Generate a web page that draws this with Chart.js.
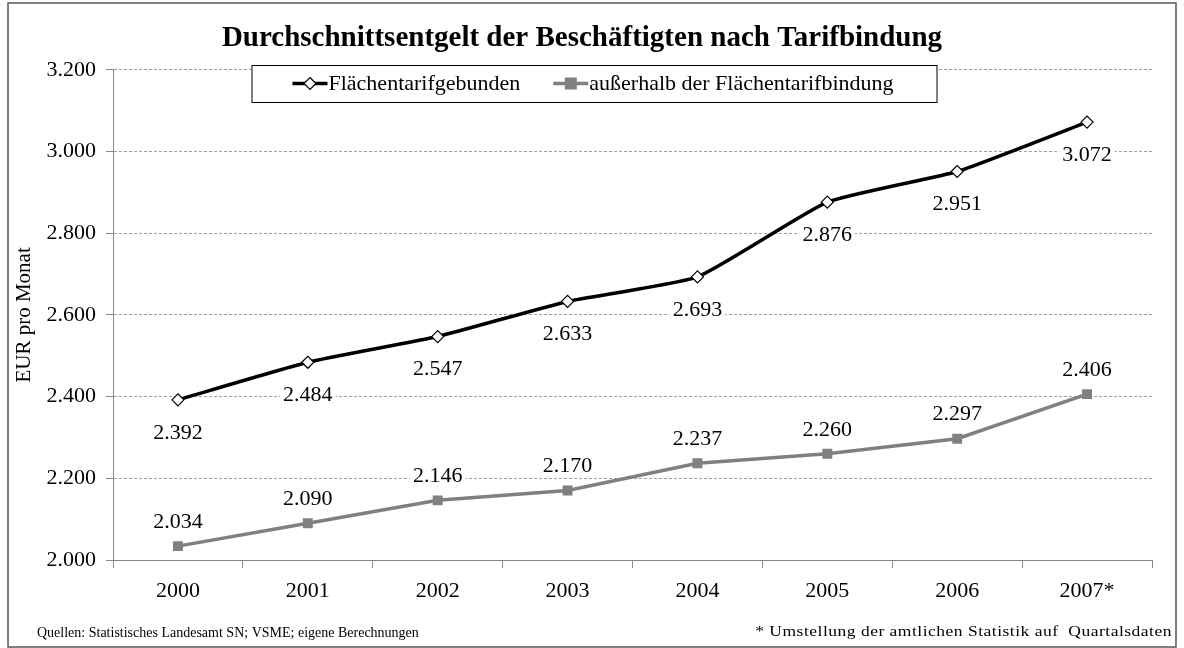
<!DOCTYPE html>
<html lang="de">
<head>
    <meta charset="UTF-8">
    <title>Durchschnittsentgelt nach Tarifbindung</title>
    <style>
        body {
            margin: 0;
            background-color: white;
        }
        .container {
            position: relative;
            width: 1184px;
            height: 648px;
        }
    </style>
    <script src="https://cdn.jsdelivr.net/npm/chart.js"></script>
</head>
<body>
    <div class="container">
        <canvas id="entgeltChart" width="1184" height="648"></canvas>
    </div>

    <script>
        // Daten
        const jahre = ['2000', '2001', '2002', '2003', '2004', '2005', '2006', '2007*'];
        const flaechentarif = [2392, 2484, 2547, 2633, 2693, 2876, 2951, 3072];
        const ausserhalb = [2034, 2090, 2146, 2170, 2237, 2260, 2297, 2406];
        const serienNamen = ['Flächentarifgebunden', 'außerhalb der Flächentarifbindung'];
        const quelle = 'Quellen: Statistisches Landesamt SN; VSME; eigene Berechnungen';
        const fussnote = '* Umstellung der amtlichen Statistik auf  Quartalsdaten';

        const schrift = "'Liberation Serif', 'Times New Roman', serif";

        function formatDe(v) {
            return String(Math.round(v)).replace(/\B(?=(\d{3})+(?!\d))/g, '.');
        }

        // Werte an die Punkte schreiben (schwarz unten, grau oben)
        const labelPlugin = {
            id: 'valueLabels',
            afterDatasetsDraw(chart) {
                const ctx = chart.ctx;
                ctx.save();
                ctx.font = '22px ' + schrift;
                ctx.textAlign = 'center';
                ctx.textBaseline = 'middle';
                chart.data.datasets.forEach((ds, i) => {
                    const meta = chart.getDatasetMeta(i);
                    const dy = i === 0 ? 32 : -25;
                    meta.data.forEach((pt, j) => {
                        const txt = formatDe(ds.data[j]);
                        const w = ctx.measureText(txt).width;
                        ctx.fillStyle = 'white';
                        ctx.fillRect(pt.x - w / 2 - 3, pt.y + dy - 12, w + 6, 24);
                        ctx.fillStyle = 'black';
                        ctx.fillText(txt, pt.x, pt.y + dy + 1);
                    });
                });
                ctx.restore();
            }
        };

        // Legende im Kasten, Rahmen und Fußnoten
        const rahmenPlugin = {
            id: 'rahmen',
            afterDraw(chart) {
                const ctx = chart.ctx;
                const W = chart.width, H = chart.height;
                ctx.save();

                // Legende
                ctx.font = '22px ' + schrift;
                const items = chart.data.datasets.map(ds => ({
                    text: ds.label,
                    color: ds.borderColor,
                    fill: ds.pointBackgroundColor,
                    style: ds.pointStyle,
                    w: ctx.measureText(ds.label).width
                }));
                const sample = 35, gap = 34, padL = 41, padR = 44;
                const total = items.reduce((s, it) => s + sample + it.w, 0) + gap;
                const boxW = total + padL + padR, boxH = 37;
                const boxX = W / 2 - boxW / 2 + 2, boxY = 65;
                ctx.fillStyle = 'white';
                ctx.fillRect(boxX, boxY, boxW, boxH);
                ctx.strokeStyle = 'black';
                ctx.lineWidth = 1;
                ctx.strokeRect(boxX + 0.5, boxY + 0.5, boxW, boxH);

                let x = boxX + padL;
                const cy = boxY + boxH / 2;
                items.forEach(it => {
                    const mx = x + sample / 2;
                    ctx.strokeStyle = it.color;
                    ctx.lineWidth = 3.5;
                    ctx.beginPath();
                    ctx.moveTo(x, cy);
                    ctx.lineTo(x + sample, cy);
                    ctx.stroke();
                    ctx.fillStyle = it.fill;
                    ctx.beginPath();
                    if (it.style === 'rect') {
                        ctx.fillRect(mx - 6, cy - 6, 12, 12);
                    } else {
                        ctx.moveTo(mx, cy - 6);
                        ctx.lineTo(mx + 6, cy);
                        ctx.lineTo(mx, cy + 6);
                        ctx.lineTo(mx - 6, cy);
                        ctx.closePath();
                        ctx.fill();
                        ctx.lineWidth = 1.2;
                        ctx.stroke();
                    }
                    ctx.fillStyle = 'black';
                    ctx.textAlign = 'left';
                    ctx.textBaseline = 'middle';
                    ctx.fillText(it.text, x + sample + 1, cy + 1);
                    x += sample + it.w + gap;
                });

                // Fußnoten
                ctx.font = '14px ' + schrift;
                ctx.fillStyle = 'black';
                ctx.textBaseline = 'middle';
                ctx.textAlign = 'left';
                ctx.fillText(quelle, 37, H - 15);
                // rechte Fußnote ist im Original etwas breiter gesetzt
                ctx.save();
                ctx.translate(W - 12, H - 16);
                ctx.scale(1.25, 1);
                ctx.letterSpacing = '0.4px';
                ctx.textAlign = 'right';
                ctx.fillText(fussnote, 0, 0);
                ctx.restore();

                // Außenrahmen
                ctx.strokeStyle = '#555';
                ctx.lineWidth = 1.5;
                ctx.strokeRect(8, 3, W - 16, H - 4);
                ctx.restore();
            }
        };

        const ctx = document.getElementById('entgeltChart').getContext('2d');
        new Chart(ctx, {
            type: 'line',
            data: {
                labels: jahre,
                datasets: [{
                    label: serienNamen[0],
                    data: flaechentarif,
                    borderColor: 'black',
                    borderWidth: 3.5,
                    tension: 0.15,
                    pointStyle: 'rectRot',
                    pointRadius: 6,
                    pointBorderWidth: 1.2,
                    pointBackgroundColor: 'white',
                    pointBorderColor: 'black'
                }, {
                    label: serienNamen[1],
                    data: ausserhalb,
                    borderColor: '#808080',
                    borderWidth: 3.5,
                    tension: 0,
                    pointStyle: 'rect',
                    pointRadius: 7,
                    pointBorderWidth: 0,
                    pointBackgroundColor: '#808080',
                    pointBorderColor: '#808080'
                }]
            },
            options: {
                responsive: false,
                animation: false,
                layout: {
                    padding: { left: 12, right: 32, top: 8, bottom: 30 }
                },
                plugins: {
                    legend: { display: false },
                    tooltip: { enabled: false },
                    title: {
                        display: true,
                        text: 'Durchschnittsentgelt der Beschäftigten nach Tarifbindung',
                        color: 'black',
                        font: { family: schrift, size: 29, weight: 'bold' },
                        padding: { top: 13, bottom: 14 }
                    }
                },
                scales: {
                    x: {
                        offset: true,
                        grid: {
                            offset: true,
                            drawOnChartArea: false,
                            drawTicks: true,
                            tickLength: 8,
                            color: '#888'
                        },
                        border: { color: '#888', width: 1 },
                        ticks: {
                            color: 'black',
                            font: { family: schrift, size: 22 },
                            padding: 10
                        },
                        afterFit(scale) { scale.height = 58; }
                    },
                    y: {
                        min: 2000,
                        max: 3200,
                        ticks: {
                            stepSize: 200,
                            color: 'black',
                            font: { family: schrift, size: 22 },
                            padding: 10,
                            callback: v => formatDe(v)
                        },
                        grid: {
                            color: '#a0a0a0',
                            tickLength: 7,
                            tickColor: '#888',
                            tickBorderDash: []
                        },
                        border: { color: '#888', width: 1, dash: [3, 2] },
                        title: {
                            display: true,
                            text: 'EUR pro Monat',
                            color: 'black',
                            font: { family: schrift, size: 21 },
                            padding: { top: 0, bottom: 2 }
                        },
                        afterFit(scale) { scale.width = 101; }
                    }
                }
            },
            plugins: [labelPlugin, rahmenPlugin]
        });
    </script>
</body>
</html>
